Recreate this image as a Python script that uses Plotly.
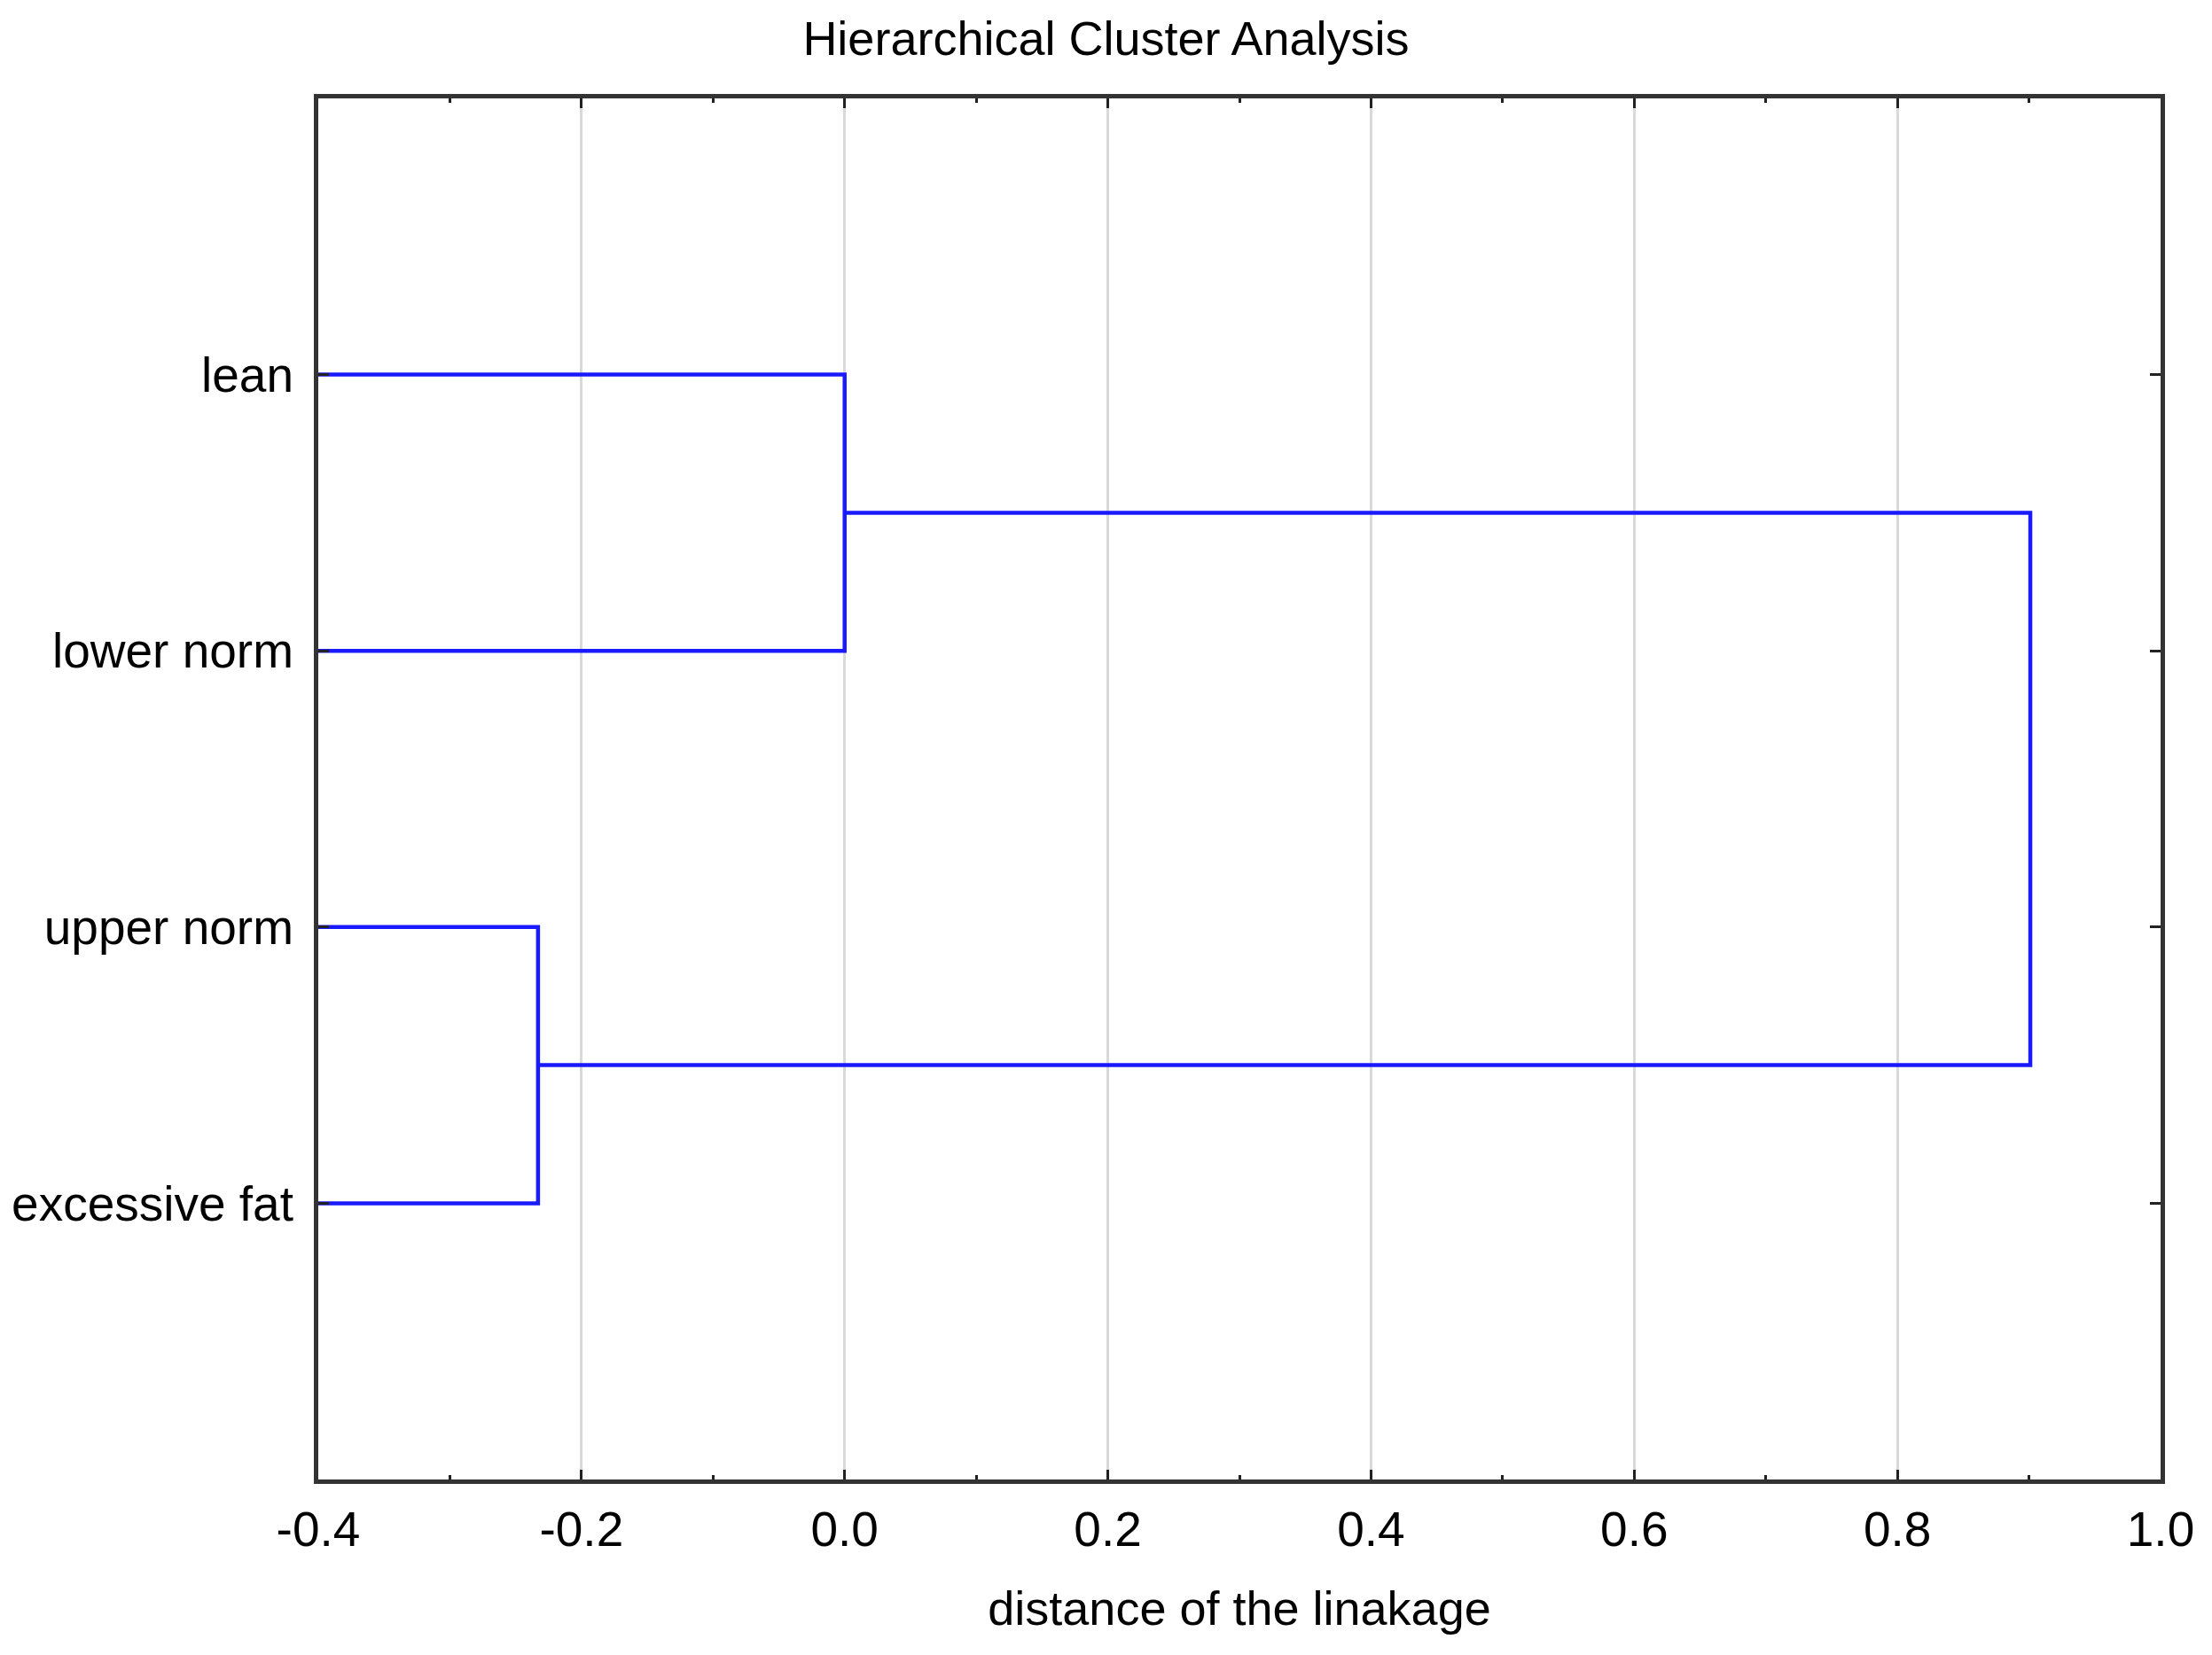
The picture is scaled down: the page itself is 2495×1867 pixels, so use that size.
import plotly.graph_objects as go

# ---- data ----
leaf_labels = ["lean", "lower norm", "upper norm", "excessive fat"]
leaf_base = -0.4
# linkage: (left cluster, right cluster, linkage distance); leaves are 0..3, merges 4..
links = [(0, 1, 0.0), (2, 3, -0.233), (4, 5, 0.901)]
x_ticks = [-0.4, -0.2, 0.0, 0.2, 0.4, 0.6, 0.8, 1.0]
x_tick_text = [f"{v:.1f}" for v in x_ticks]
chart_title = "Hierarchical Cluster Analysis"
x_title = "distance of the linakage"

# ---- build dendrogram segments ----
n = len(leaf_labels)
node_x = {i: leaf_base for i in range(n)}
node_y = {i: n - i for i in range(n)}
xs, ys = [], []
for k, (a, b, d) in enumerate(links):
    xs += [node_x[a], d, d, node_x[b], None]
    ys += [node_y[a], node_y[a], node_y[b], node_y[b], None]
    node_x[n + k] = d
    node_y[n + k] = (node_y[a] + node_y[b]) / 2

fig = go.Figure()
fig.add_trace(go.Scatter(
    x=xs, y=ys, mode="lines",
    line=dict(color="#1a1aff", width=4.5),
    hoverinfo="skip", showlegend=False,
))

FONT = "Liberation Sans, Arial, sans-serif"
fig.update_layout(
    width=2495, height=1867,
    margin=dict(l=359, r=58, t=111, b=198),
    paper_bgcolor="white", plot_bgcolor="white",
    font=dict(family=FONT, size=55, color="black"),
    title=dict(text=chart_title, x=0.5, xanchor="center", xref="container",
               y=1 - 43 / 1867, yref="container", yanchor="middle",
               font=dict(family=FONT, size=54, color="black")),
    xaxis=dict(
        range=[-0.4, 1.0], tickvals=x_ticks, ticktext=x_tick_text,
        showgrid=True, gridcolor="#d9d9d9", gridwidth=3,
        zeroline=False, showline=True, linecolor="#333333", linewidth=5,
        mirror="ticks", ticks="inside", ticklen=11, tickwidth=3, tickcolor="#222222",
        minor=dict(ticks="inside", ticklen=5, tickwidth=3, tickcolor="#222222",
                   dtick=0.1, tick0=-0.4, showgrid=False),
        ticklabelstandoff=4,
        title=dict(text=x_title, font=dict(family=FONT, size=54, color="black"), standoff=42),
        tickfont=dict(family=FONT, size=55, color="black"),
    ),
    yaxis=dict(
        range=[0, n + 1], tickvals=[node_y[i] for i in range(n)], ticktext=leaf_labels,
        showgrid=False, zeroline=False, showline=True, linecolor="#333333", linewidth=5,
        mirror="ticks", ticks="inside", ticklen=12, tickwidth=3, tickcolor="#222222",
        ticklabelstandoff=12,
        tickfont=dict(family=FONT, size=55, color="black"),
    ),
)

fig.write_html("out.html", config={"displayModeBar": False},
               post_script="document.body.style.margin='0';")
